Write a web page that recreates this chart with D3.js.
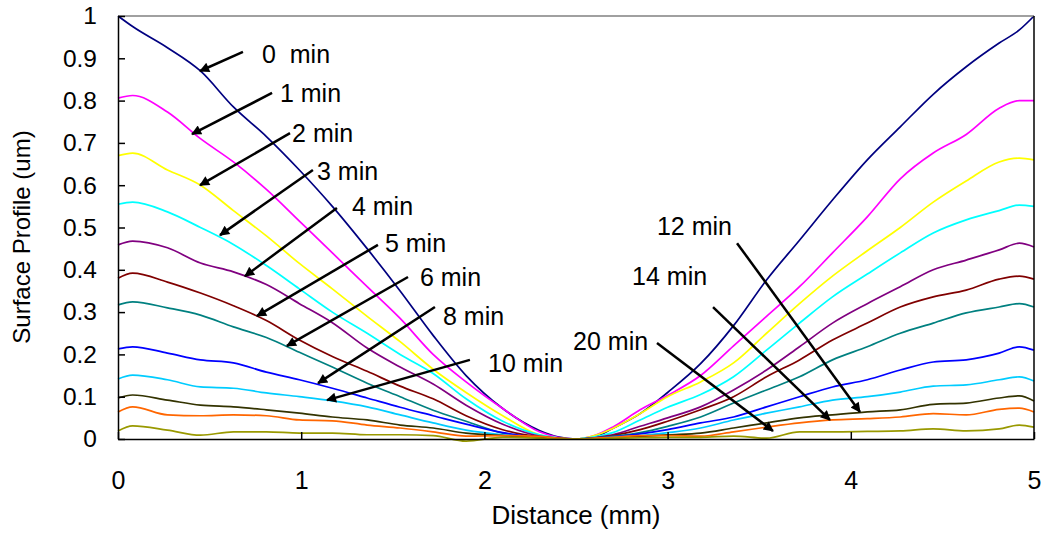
<!DOCTYPE html>
<html>
<head>
<meta charset="utf-8">
<script src="https://cdn.jsdelivr.net/npm/d3@7"></script>
<style>
  body { margin: 0; background: #fff; }
  text { font-family: "Liberation Sans", Arial, sans-serif; fill: #000; }
</style>
</head>
<body>
<svg id="chart" width="1047" height="542"></svg>
<script>
// distance positions (mm) shared by every profile
var distance = [0, 0.08, 0.27, 0.45, 0.63, 0.81, 0.99, 1.17, 1.36, 1.54, 1.72, 1.9, 2.1, 2.3, 2.4, 2.5,
  2.6, 2.7, 2.85, 3.0, 3.18, 3.36, 3.54, 3.72, 3.9, 4.09, 4.27, 4.45, 4.63, 4.81, 4.92, 5.0];

var min0 = [1.0, 0.975, 0.925, 0.87, 0.785, 0.715, 0.636, 0.55, 0.45, 0.35, 0.245, 0.15, 0.072, 0.02, 0.005, 0,
  0.005, 0.025, 0.06, 0.11, 0.178, 0.268, 0.376, 0.47, 0.565, 0.66, 0.738, 0.815, 0.88, 0.936, 0.967, 1.0];
var min1 = [0.806, 0.812, 0.773, 0.71, 0.655, 0.59, 0.515, 0.44, 0.36, 0.285, 0.2, 0.135, 0.072, 0.017, 0.004, 0,
  0.008, 0.028, 0.069, 0.103, 0.15, 0.22, 0.29, 0.36, 0.44, 0.525, 0.615, 0.676, 0.72, 0.782, 0.8, 0.8];
var min2 = [0.67, 0.676, 0.636, 0.6, 0.54, 0.48, 0.415, 0.355, 0.29, 0.23, 0.165, 0.11, 0.055, 0.01, 0.003, 0,
  0.008, 0.025, 0.06, 0.1, 0.135, 0.18, 0.25, 0.32, 0.385, 0.445, 0.5, 0.56, 0.61, 0.655, 0.664, 0.66];
var min3 = [0.555, 0.56, 0.537, 0.5, 0.46, 0.41, 0.355, 0.3, 0.25, 0.2, 0.155, 0.095, 0.042, 0.01, 0.003, 0,
  0.005, 0.015, 0.045, 0.075, 0.105, 0.147, 0.21, 0.274, 0.336, 0.39, 0.44, 0.487, 0.518, 0.54, 0.553, 0.55];
var min4 = [0.459, 0.468, 0.452, 0.416, 0.395, 0.365, 0.32, 0.275, 0.215, 0.17, 0.13, 0.08, 0.035, 0.007, 0.002, 0,
  0.003, 0.01, 0.03, 0.05, 0.076, 0.116, 0.163, 0.218, 0.274, 0.32, 0.36, 0.4, 0.423, 0.447, 0.463, 0.454];
var min5 = [0.38, 0.392, 0.371, 0.345, 0.315, 0.28, 0.234, 0.195, 0.16, 0.125, 0.095, 0.055, 0.022, 0.005, 0.001, 0,
  0.002, 0.008, 0.022, 0.042, 0.069, 0.1, 0.147, 0.187, 0.234, 0.274, 0.312, 0.336, 0.352, 0.378, 0.385, 0.378];
var min6 = [0.317, 0.324, 0.31, 0.293, 0.265, 0.24, 0.205, 0.17, 0.132, 0.1, 0.068, 0.042, 0.014, 0.003, 0.001, 0,
  0.002, 0.006, 0.015, 0.03, 0.052, 0.085, 0.116, 0.147, 0.187, 0.218, 0.25, 0.274, 0.298, 0.312, 0.32, 0.312];
var min8 = [0.213, 0.218, 0.203, 0.187, 0.18, 0.158, 0.14, 0.12, 0.097, 0.075, 0.055, 0.035, 0.015, 0.004, 0.001, 0,
  0.002, 0.005, 0.012, 0.022, 0.038, 0.052, 0.076, 0.1, 0.123, 0.14, 0.163, 0.182, 0.187, 0.203, 0.218, 0.21];
var min10 = [0.142, 0.151, 0.14, 0.123, 0.12, 0.109, 0.1, 0.09, 0.076, 0.057, 0.038, 0.021, 0.01, 0.004, 0.001, 0,
  0.001, 0.004, 0.008, 0.015, 0.026, 0.045, 0.061, 0.076, 0.092, 0.1, 0.111, 0.125, 0.128, 0.14, 0.147, 0.137];
var min12 = [0.097, 0.104, 0.092, 0.08, 0.076, 0.069, 0.061, 0.052, 0.045, 0.033, 0.026, 0.014, 0.008, 0.004, 0.002, 0,
  0.001, 0.003, 0.006, 0.01, 0.014, 0.026, 0.038, 0.05, 0.057, 0.064, 0.069, 0.082, 0.085, 0.097, 0.102, 0.09];
var min14 = [0.064, 0.076, 0.057, 0.055, 0.057, 0.055, 0.045, 0.043, 0.033, 0.026, 0.017, 0.007, 0.008, 0.006, 0.002, 0,
  0.002, 0.004, 0.008, 0.008, 0.007, 0.017, 0.028, 0.038, 0.045, 0.048, 0.052, 0.06, 0.057, 0.07, 0.073, 0.064];
var min20 = [0.019, 0.031, 0.021, 0.009, 0.017, 0.017, 0.014, 0.014, 0.01, 0.01, 0.008, -0.005, 0.004, 0.002, 0, 0,
  0, 0.002, 0.003, 0.004, 0.004, 0.007, 0.002, 0.017, 0.017, 0.018, 0.019, 0.024, 0.019, 0.024, 0.033, 0.028];

var seriesNames = ['0  min', '1 min', '2 min', '3 min', '4 min', '5 min', '6 min', '8 min', '10 min', '12 min', '14 min', '20 min'];
var seriesValues = [min0, min1, min2, min3, min4, min5, min6, min8, min10, min12, min14, min20];
var seriesColors = ['#000080', '#ff00ff', '#ffff00', '#00ffff', '#800080', '#800000', '#008080', '#0000ff',
  '#00ccff', '#333300', '#ff6600', '#999900'];

var xTicks = [0, 1, 2, 3, 4, 5];
var yTicks = [0, 0.1, 0.2, 0.3, 0.4, 0.5, 0.6, 0.7, 0.8, 0.9, 1];

// callouts in data units: label spot, arrow tail, arrow tip on the curve
var labelAt = [[0.786, 0.889], [0.884, 0.797], [0.95, 0.702], [1.086, 0.612], [1.277, 0.53], [1.457, 0.442],
  [1.648, 0.362], [1.774, 0.27], [2.02, 0.158], [2.942, 0.482], [2.806, 0.364], [2.484, 0.21]];
var arrowFrom = [[0.682, 0.915], [0.841, 0.818], [0.939, 0.723], [1.064, 0.636], [1.195, 0.546], [1.419, 0.459],
  [1.583, 0.383], [1.73, 0.312], [1.921, 0.187], [3.379, 0.463], [3.248, 0.312], [2.942, 0.227]];
var arrowTo = [[0.448, 0.87], [0.404, 0.721], [0.448, 0.6], [0.557, 0.482], [0.693, 0.385], [0.759, 0.291],
  [0.922, 0.22], [1.092, 0.132], [1.141, 0.092], [4.05, 0.064], [3.886, 0.045], [3.575, 0.019]];

var plotLeft = 118, plotRight = 1034, plotTop = 16, plotBottom = 439;

var x = d3.scaleLinear().domain([0, 5]).range([plotLeft, plotRight]);
var y = d3.scaleLinear().domain([0, 1]).range([plotBottom, plotTop]);

var svg = d3.select('#chart');

// profiles
var line = d3.line()
  .x(function(d, i) { return x(distance[i]); })
  .y(function(d) { return y(d); })
  .curve(d3.curveMonotoneX);

svg.append('g')
  .selectAll('path')
  .data(seriesValues)
  .enter()
  .append('path')
  .attr('d', line)
  .attr('fill', 'none')
  .attr('stroke', function(d, i) { return seriesColors[i]; })
  .attr('stroke-width', 1.7)
  .attr('stroke-linejoin', 'round');

// frame
svg.append('line')
  .attr('x1', plotLeft).attr('x2', plotRight).attr('y1', plotTop).attr('y2', plotTop)
  .attr('stroke', '#808080').attr('stroke-width', 1.5);
svg.append('line')
  .attr('x1', plotRight).attr('x2', plotRight).attr('y1', plotTop).attr('y2', plotBottom)
  .attr('stroke', '#000').attr('stroke-width', 1.5);

var yAxis = d3.axisLeft(y)
  .tickValues(yTicks)
  .tickFormat(d3.format('~g'))
  .tickSizeInner(-7)
  .tickSizeOuter(0)
  .tickPadding(21);

var xAxis = d3.axisBottom(x)
  .tickValues(xTicks)
  .tickFormat(d3.format('d'))
  .tickSizeInner(-7)
  .tickSizeOuter(0)
  .tickPadding(32);

svg.append('g')
  .attr('transform', 'translate(' + plotLeft + ',0)')
  .call(yAxis)
  .call(function(g) {
    g.selectAll('text').attr('font-size', 24.5).attr('font-family', null);
    g.selectAll('line, path').attr('stroke', '#000').attr('stroke-width', 1.5);
  });

svg.append('g')
  .attr('transform', 'translate(0,' + plotBottom + ')')
  .call(xAxis)
  .call(function(g) {
    g.selectAll('text').attr('font-size', 25).attr('font-family', null);
    g.selectAll('line, path').attr('stroke', '#000').attr('stroke-width', 1.5);
  });

// axis titles
svg.append('text')
  .attr('x', (plotLeft + plotRight) / 2)
  .attr('y', 524)
  .attr('text-anchor', 'middle')
  .attr('font-size', 26)
  .text('Distance (mm)');

svg.append('text')
  .attr('transform', 'translate(30,237) rotate(-90)')
  .attr('text-anchor', 'middle')
  .attr('font-size', 24)
  .text('Surface Profile (um)');

// callout arrows
svg.append('defs')
  .append('marker')
  .attr('id', 'head')
  .attr('viewBox', '0 0 10 10')
  .attr('refX', 9)
  .attr('refY', 5)
  .attr('markerWidth', 5)
  .attr('markerHeight', 4)
  .attr('markerUnits', 'strokeWidth')
  .attr('orient', 'auto')
  .append('path')
  .attr('d', 'M0,0 L10,5 L0,10 z')
  .attr('fill', '#000');

svg.append('g')
  .selectAll('line')
  .data(arrowFrom)
  .enter()
  .append('line')
  .attr('x1', function(d) { return x(d[0]); })
  .attr('y1', function(d) { return y(d[1]); })
  .attr('x2', function(d, i) { return x(arrowTo[i][0]); })
  .attr('y2', function(d, i) { return y(arrowTo[i][1]); })
  .attr('stroke', '#000')
  .attr('stroke-width', 2.5)
  .attr('marker-end', 'url(#head)');

svg.append('g')
  .selectAll('text')
  .data(seriesNames)
  .enter()
  .append('text')
  .attr('x', function(d, i) { return x(labelAt[i][0]); })
  .attr('y', function(d, i) { return y(labelAt[i][1]); })
  .attr('font-size', 25)
  .style('white-space', 'pre')
  .text(function(d) { return d; });
</script>
</body>
</html>
